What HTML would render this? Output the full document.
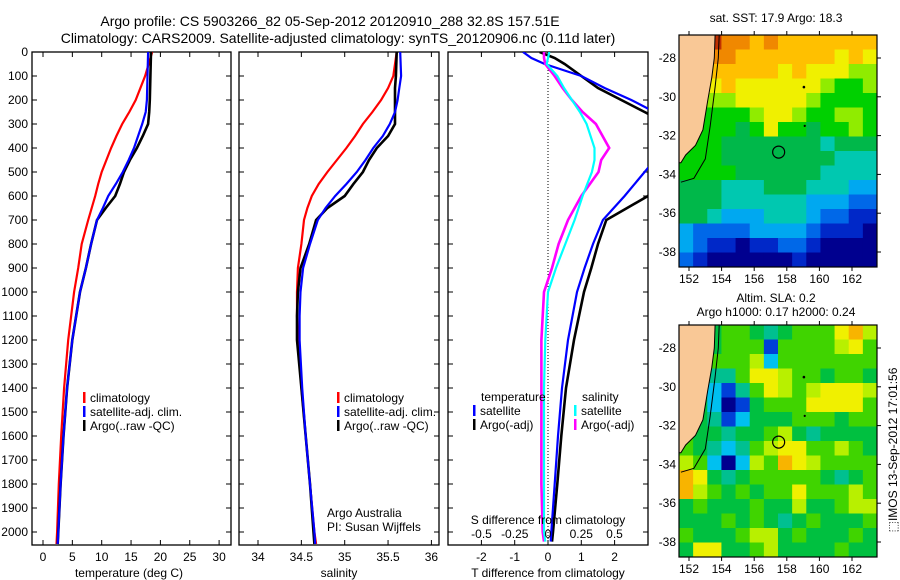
<!DOCTYPE html>
<html><head><meta charset="utf-8"><style>
html,body{margin:0;padding:0;background:#fff;}
svg{display:block;font-family:"Liberation Sans",sans-serif;}
text{fill:#000;}
</style></head><body>
<svg id="fig" width="900" height="580" viewBox="0 0 900 580" xmlns="http://www.w3.org/2000/svg">
<text x="330" y="26" font-size="14" text-anchor="middle">Argo profile: CS 5903266_82 05-Sep-2012 20120910_288 32.8S 157.51E</text>
<text x="338" y="43" font-size="14" text-anchor="middle">Climatology: CARS2009. Satellite-adjusted climatology: synTS_20120906.nc (0.11d later)</text>
<g id="g1"></g>
<g id="g2"></g>
<g id="g3"></g>
<g id="m1"></g>
<g id="m2"></g>
<text x="776" y="22" font-size="12" text-anchor="middle">sat. SST: 17.9 Argo: 18.3</text>
<text x="776" y="302" font-size="12" text-anchor="middle">Altim. SLA: 0.2</text>
<text x="776" y="316" font-size="12" text-anchor="middle">Argo h1000: 0.17 h2000: 0.24</text>
<text x="0" y="0" font-size="12" text-anchor="middle" transform="translate(897,450) rotate(-90)">⬚IMOS 13-Sep-2012 17:01:56</text>
</svg>
<script>
// ---- profile data ----
var depthT = [0,100,200,250,300,350,400,450,500,550,600,650,700,800,900,1000,1200,1400,1600,1800,2000,2050];
var tempClim = [18.6,17.4,15.8,14.7,13.5,12.5,11.6,10.8,10.0,9.4,8.9,8.3,7.7,6.6,6.0,5.3,4.3,3.6,3.1,2.7,2.4,2.3];
var tempSat  = [17.9,17.8,17.7,17.5,16.9,16.2,15.5,14.6,13.6,12.4,11.1,10.2,9.2,8.2,7.3,6.3,5.0,4.1,3.5,3.0,2.6,2.5];
var tempArgo = [18.4,18.3,18.2,18.1,17.9,17.0,16.0,14.8,13.8,13.1,12.3,10.7,9.2,8.2,7.3,6.3,5.0,4.1,3.5,3.0,2.6,2.5];
var depthS = [0,100,150,200,250,300,350,400,450,500,550,600,650,700,800,900,1000,1100,1200,1400,1600,1800,2000,2050];
var salClim = [35.60,35.56,35.50,35.42,35.32,35.21,35.12,35.02,34.91,34.80,34.70,34.62,34.57,34.53,34.50,34.46,34.45,34.45,34.46,34.50,34.55,34.60,34.65,34.67];
var salSat  = [35.64,35.65,35.63,35.61,35.58,35.52,35.44,35.33,35.24,35.14,35.02,34.89,34.78,34.69,34.60,34.52,34.49,34.48,34.48,34.51,34.55,34.60,34.65,34.66];
var salArgo = [35.60,35.59,35.58,35.58,35.58,35.58,35.50,35.37,35.28,35.21,35.10,35.00,34.80,34.67,34.59,34.49,34.46,34.45,34.45,34.50,34.55,34.60,34.64,34.65];
var depthD = [0,25,50,100,150,200,250,300,400,450,500,600,700,800,900,1000,1200,1400,1600,1800,2000,2040];
var dTsat  = [-0.75,-0.5,-0.1,1.0,1.7,2.5,3.2,3.8,3.5,3.2,2.9,2.3,1.65,1.35,1.1,0.87,0.6,0.42,0.3,0.2,0.1,0.08];
var dTargo = [-0.25,0.2,0.5,1.0,1.5,2.2,2.9,3.6,4.0,3.9,3.8,3.0,1.75,1.5,1.3,1.08,0.78,0.54,0.4,0.28,0.15,0.12];
var dSsat  = [0.01,0.0,-0.01,0.07,0.12,0.18,0.24,0.29,0.35,0.35,0.33,0.26,0.2,0.13,0.06,0.0,-0.02,-0.03,-0.03,-0.03,-0.03,-0.02];
var dSargo = [-0.03,-0.03,-0.02,0.05,0.11,0.18,0.26,0.36,0.46,0.4,0.38,0.25,0.15,0.08,0.03,-0.03,-0.05,-0.05,-0.05,-0.05,-0.04,-0.03];
var depthTicks = [0,100,200,300,400,500,600,700,800,900,1000,1100,1200,1300,1400,1500,1600,1700,1800,1900,2000];
var tempTicks = [0,5,10,15,20,25,30];
var salTicks = [34,34.5,35,35.5,36];
var dTTicks = [-2,-1,0,1,2];
var dSTicks = [-0.5,-0.25,0,0.25,0.5];
// ---- map data (levels) ----
var lonTicks = [152,154,156,158,160,162];
var latTicks = [-28,-30,-32,-34,-36,-38];
var sstGrid = [
[6,6,11,10,10,9,10,9,9,9,9,9,9,9],
[6,6,10,10,9,9,9,9,9,9,9,8,9,8],
[6,6,9,9,9,9,9,8,9,8,8,8,7,7],
[6,6,8,9,8,8,8,8,8,8,7,6,6,7],
[6,6,7,7,8,8,8,8,8,7,6,6,6,6],
[6,6,6,6,6,7,8,8,7,6,6,7,7,6],
[6,6,6,6,5,6,8,6,6,5,6,6,7,6],
[6,6,6,5,5,5,5,5,5,5,4,5,5,5],
[6,6,6,5,5,5,5,5,5,5,5,4,4,4],
[6,6,6,6,5,5,5,5,5,5,4,4,4,4],
[5,5,5,4,4,4,5,5,5,4,4,4,3,3],
[5,5,5,4,4,4,4,4,4,3,3,3,2,2],
[5,5,4,3,3,3,4,4,4,3,2,2,1,1],
[3,2,2,2,2,3,3,3,3,2,1,1,1,0],
[3,2,1,1,0,1,1,2,2,1,0,0,0,0],
[2,1,0,0,0,0,0,0,1,0,0,0,0,0]];
var slaGrid = [
[5,5,4,5,5,4,3,4,5,5,5,7,8,6],
[5,5,4,5,5,5,1,5,5,5,5,6,7,5],
[5,5,5,5,5,6,2,5,5,5,5,5,5,5],
[5,5,3,3,5,7,7,6,5,5,4,5,5,4],
[5,4,2,1,3,5,7,6,5,6,7,7,7,6],
[5,4,2,0,1,4,5,5,5,7,7,7,7,5],
[5,4,3,1,2,4,4,4,5,5,5,4,5,5],
[5,4,4,3,4,4,5,6,4,3,4,4,4,4],
[5,4,3,2,3,5,6,7,7,5,5,6,5,4],
[6,5,2,0,2,6,5,8,7,6,5,5,5,5],
[8,7,4,3,4,5,5,5,5,5,4,3,4,5],
[8,6,5,4,5,4,5,5,7,5,5,5,6,5],
[4,5,4,4,4,5,4,4,6,4,4,5,6,6],
[4,4,4,5,4,5,4,3,4,5,4,4,4,5],
[5,4,4,4,5,6,6,4,5,4,4,4,5,4],
[4,7,7,4,4,5,6,4,4,4,4,5,4,4]];
var coastLon = [153.6,153.55,153.4,153.15,152.85,152.4,151.8,151.5];
var coastLat = [-26.8,-28,-29,-30.2,-31.7,-32.5,-33,-33.4];
var isoLon = [153.85,153.8,153.6,153.3,153.0,152.3,151.5];
var isoLat = [-26.8,-28,-29.5,-31.5,-33.2,-34.2,-34.4];
var argoLon = 157.5, argoLat = -32.85;
var sstColors = ["#00008f","#0028c8","#0068e8","#00a8f0","#00c8b0","#00b84a","#00d000","#90ec00","#f0f000","#ffc000","#f08800","#c03000"];
var slaColors = ["#00008f","#0040d8","#00c0f0","#00c090","#00c040","#40d400","#b8f000","#f0f000","#f8b400","#e88000"];

var NS='http://www.w3.org/2000/svg';
function mk(par,tag,at){var e=document.createElementNS(NS,tag);for(var k in at)e.setAttribute(k,at[k]);par.appendChild(e);return e;}
function txt(par,x,y,s,anchor,size){var t=mk(par,'text',{x:x,y:y,'font-size':size||12,'text-anchor':anchor||'start'});t.textContent=s;return t;}

var Y0=52, Y1=545;
function yD(d){return 52+d*0.24;}

function panel(g,x0,x1,xs,ticks,tlabels){
  var r=mk(g,'rect',{x:x0,y:Y0,width:x1-x0,height:Y1-Y0,fill:'none',stroke:'#000','stroke-width':1.3});
  
  
  depthTicks.forEach(function(d){
    mk(g,'line',{x1:x0,x2:x0+5,y1:yD(d),y2:yD(d),stroke:'#000'});
    mk(g,'line',{x1:x1,x2:x1-5,y1:yD(d),y2:yD(d),stroke:'#000'});
  });
  ticks.forEach(function(v){
    var x=xs(v);
    mk(g,'line',{x1:x,x2:x,y1:Y0,y2:Y0+5,stroke:'#000'});
    mk(g,'line',{x1:x,x2:x,y1:Y1,y2:Y1-5,stroke:'#000'});
    if(tlabels){var t=txt(g,x,561,String(v),'middle',12);
      
      }
  });
}
function line(g,xs,dep,vals,color,name,w){
  var pts=dep.map(function(d,i){return xs(vals[i]).toFixed(1)+','+yD(d).toFixed(1);}).join(' ');
  var p=mk(g,'polyline',{points:pts,fill:'none',stroke:color,'stroke-width':w||2.2});
  
  
}
function legend(g,x,y,color,label){
  mk(g,'rect',{x:x,y:y-10,width:2.5,height:11,fill:color});
  var t=txt(g,x+7,y,label,'start',12);
  
  
}

// Panel 1
var g1=document.getElementById('g1');
var xT=function(v){return 43+v*5.87;};
panel(g1,32,231,xT,tempTicks,true);
depthTicks.forEach(function(d){var t=txt(g1,28,yD(d)+4,String(d),'end',12);
  
  });
var cp1=mk(g1,'clipPath',{id:'c1'});mk(cp1,'rect',{x:32,y:52,width:199,height:493});
var l1=mk(g1,'g',{'clip-path':'url(#c1)'});
line(l1,xT,depthT,tempClim,'#f00','temp-climatology-line');
line(l1,xT,depthT,tempArgo,'#000','temp-argo-line',2.6);
line(l1,xT,depthT,tempSat,'#00f','temp-satellite-line');
legend(g1,83,402,'#f00','climatology');
legend(g1,83,416,'#00f','satellite-adj. clim.');
legend(g1,83,430,'#000','Argo(..raw -QC)');
var a1=txt(g1,129,577,'temperature (deg C)','middle',12);

// Panel 2
var g2=document.getElementById('g2');
var xS=function(v){return 258+(v-34)*86.7;};
panel(g2,239,439,xS,salTicks,true);
var cp2=mk(g2,'clipPath',{id:'c2'});mk(cp2,'rect',{x:239,y:52,width:200,height:493});
var l2=mk(g2,'g',{'clip-path':'url(#c2)'});
line(l2,xS,depthS,salClim,'#f00','sal-climatology-line');
line(l2,xS,depthS,salArgo,'#000','sal-argo-line',2.6);
line(l2,xS,depthS,salSat,'#00f','sal-satellite-line');
legend(g2,337,402,'#f00','climatology');
legend(g2,337,416,'#00f','satellite-adj. clim.');
legend(g2,337,430,'#000','Argo(..raw -QC)');
txt(g2,327,517,'Argo Australia','start',12);
txt(g2,327,531,'PI: Susan Wijffels','start',12);
var a2=txt(g2,339,577,'salinity','middle',12);

// Panel 3
var g3=document.getElementById('g3');
var xDT=function(v){return 548+v*33.3;};
var xDS=function(v){return 548+v*133;};
panel(g3,448,648,xDT,dTTicks,true);
mk(g3,'line',{x1:548,x2:548,y1:Y0,y2:Y1,stroke:'#000','stroke-dasharray':'1,2'});
var cp3=mk(g3,'clipPath',{id:'c3'});mk(cp3,'rect',{x:448,y:52,width:200,height:493});
var l3=mk(g3,'g',{'clip-path':'url(#c3)'});
line(l3,xDT,depthD,dTargo,'#000','t-diff-argo-line',2.6);
line(l3,xDT,depthD,dTsat,'#00f','t-diff-satellite-line');
line(l3,xDS,depthD,dSargo,'#f0f','s-diff-argo-line',2.6);
line(l3,xDS,depthD,dSsat,'#0ff','s-diff-satellite-line');
txt(g3,481,401,'temperature','start',12);
legend(g3,473,415,'#00f','satellite');
legend(g3,473,429,'#000','Argo(-adj)');
txt(g3,582,401,'salinity','start',12);
legend(g3,574,415,'#0ff','satellite');
legend(g3,574,429,'#f0f','Argo(-adj)');
txt(g3,548,524,'S difference from climatology','middle',12);
dSTicks.forEach(function(v){var t=txt(g3,xDS(v),538,String(v),'middle',12);
  
  });
var a3=txt(g3,548,577,'T difference from climatology','middle',12);

// Maps
function drawMap(g,top,grid,colors,id){
  var L=679,R=877,T=top,B=top+232;
  var lx=function(lon){return 689+(lon-152)*16.3;};
  var ly=function(lat){return (top+23)+(-28-lat)*19.4;};
  var cp=mk(g,'clipPath',{id:id});mk(cp,'rect',{x:L,y:T,width:R-L,height:B-T});
  var cg=mk(g,'g',{'clip-path':'url(#'+id+')'});
  var nr=grid.length,nc=grid[0].length,cw=(R-L)/nc,ch=(B-T)/nr;
  grid.forEach(function(row,i){row.forEach(function(v,j){
    var c=mk(cg,'rect',{x:(L+j*cw).toFixed(2),y:(T+i*ch).toFixed(2),width:(cw+0.6).toFixed(2),height:(ch+0.6).toFixed(2),fill:colors[v]});
    
    
  });});
  var pts=coastLon.map(function(lo,i){return lx(lo).toFixed(1)+','+ly(coastLat[i]).toFixed(1);});
  pts.push(L+','+ly(coastLat[coastLat.length-1]).toFixed(1));pts.push(L+','+T);
  var land=mk(cg,'polygon',{points:pts.join(' '),fill:'#f9c896',stroke:'#000','stroke-width':1});
  
  
  mk(cg,'polyline',{points:isoLon.map(function(lo,i){return lx(lo).toFixed(1)+','+ly(isoLat[i]).toFixed(1);}).join(' '),fill:'none',stroke:'#000','stroke-width':1});
  mk(cg,'circle',{cx:lx(159.05),cy:ly(-29.5),r:1.3,fill:'#000'});
  mk(cg,'circle',{cx:lx(159.1),cy:ly(-31.5),r:1.1,fill:'#000'});
  var ac=mk(cg,'circle',{cx:lx(argoLon),cy:ly(argoLat),r:6,fill:'none',stroke:'#000','stroke-width':1.2});
  
  
  mk(g,'rect',{x:L,y:T,width:R-L,height:B-T,fill:'none',stroke:'#000','stroke-width':1.2});
  lonTicks.forEach(function(lo){var x=lx(lo);
    mk(g,'line',{x1:x,x2:x,y1:T,y2:T-4,stroke:'#000'});
    mk(g,'line',{x1:x,x2:x,y1:B,y2:B+4,stroke:'#000'});
    var t=txt(g,x,B+16,String(lo),'middle',12);
    
    });
  latTicks.forEach(function(la){var y=ly(la);
    mk(g,'line',{x1:R,x2:R+4,y1:y,y2:y,stroke:'#000'});
    var t=txt(g,676,y+4,String(la),'end',12);
    
    });
}
drawMap(document.getElementById('m1'),35,sstGrid,sstColors,'mc1');
drawMap(document.getElementById('m2'),325,slaGrid,slaColors,'mc2');
</script>
</body></html>
